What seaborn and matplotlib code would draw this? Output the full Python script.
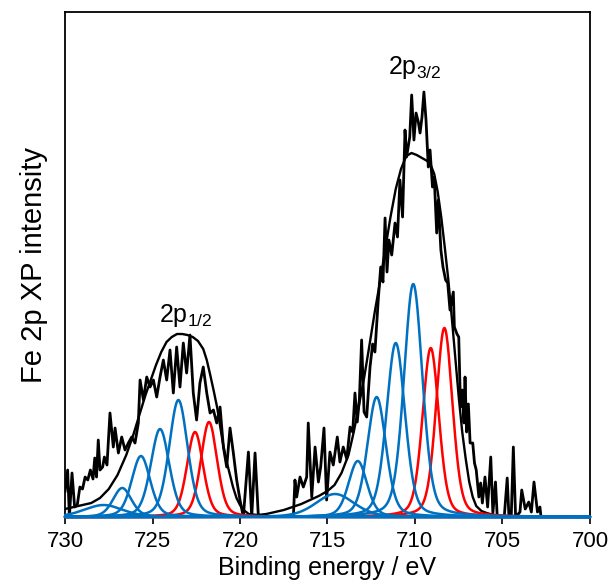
import numpy as np
import pandas as pd
import matplotlib
matplotlib.use("Agg")
import matplotlib.pyplot as plt
import seaborn as sns

# measured spectrum (binding energy in eV, intensity in arb. units)
data_be = [730.0, 729.85, 729.75, 729.6, 729.45, 729.3, 729.15, 729.0, 728.85, 728.7,
           728.55, 728.4, 728.3, 728.2, 728.1, 728.0, 727.85, 727.75, 727.6, 727.43,
           727.24, 727.14, 726.95, 726.76, 726.57, 726.38, 726.19, 726.0, 725.81, 725.71,
           725.52, 725.33, 725.14, 724.95, 724.76, 724.57, 724.38, 724.19, 724.0, 723.81,
           723.62, 723.43, 723.24, 723.05, 722.86, 722.67, 722.48, 722.29, 722.1, 721.9,
           721.71, 721.52, 721.33, 721.14, 720.95, 720.76, 720.57, 720.38, 720.19, 720.0,
           719.81, 719.52, 719.33, 719.14, 718.95, 718.0, 716.95, 716.86, 716.76, 716.57,
           716.38, 716.19, 716.1, 715.9, 715.71, 715.52, 715.39, 715.2, 715.05, 714.86,
           714.67, 714.44, 714.29, 714.1, 713.9, 713.71, 713.56, 713.43, 713.3, 713.18,
           713.05, 712.91, 712.76, 712.57, 712.42, 712.29, 712.1, 711.96, 711.83, 711.71,
           711.6, 711.49, 711.33, 711.14, 711.0, 710.86, 710.71, 710.57, 710.48, 710.3,
           710.19, 710.06, 709.94, 709.81, 709.71, 709.6, 709.49, 709.37, 709.24, 709.14,
           709.0, 708.9, 708.76, 708.67, 708.52, 708.4, 708.25, 708.13, 708.0, 707.81,
           707.75, 707.6, 707.5, 707.4, 707.3, 707.2, 707.14, 707.05, 706.95, 706.85,
           706.7, 706.6, 706.5, 706.35, 706.25, 706.15, 706.0, 705.85, 705.67, 705.55,
           705.4, 705.3, 704.9, 704.73, 704.63, 704.5, 704.38, 704.25, 704.0, 703.9,
           703.7, 703.5, 703.35, 703.2, 703.0, 702.86, 702.8]
data_int = [25, 47, 0, 44, 10, 12, 30, 28, 40, 37,
            47, 38, 59, 40, 77, 47, 50, 60, 52, 104,
            70, 89, 64, 80, 67, 74, 80, 74, 94, 137,
            117, 140, 130, 137, 120, 140, 157, 137, 167, 124,
            170, 130, 174, 144, 182, 124, 97, 134, 150, 124,
            104, 107, 94, 110, 70, 50, 89, 64, 37, 17,
            0, 65, 0, 64, 0, 0, 0, 37, 20, 40,
            30, 40, 94, 20, 70, 35, 50, 89, 17, 65,
            52, 80, 55, 70, 58, 90, 85, 124, 95, 117,
            177, 105, 100, 150, 173, 165, 217, 250, 235, 299,
            245, 277, 262, 294, 280, 337, 300, 387, 360, 380,
            422, 377, 404, 395, 384, 400, 425, 397, 350, 367,
            330, 340, 284, 317, 267, 250, 237, 234, 207, 225,
            190, 183, 180, 110, 127, 94, 140, 85, 113, 74,
            74, 54, 47, 20, 34, 14, 40, 10, 60, 4,
            35, 0, 0, 39, 0, 0, 70, 0, 5, 27,
            8, 15, 5, 35, 5, 10, 0]

# fitted envelope
env_be = [730.0, 729.5, 729.0, 728.5, 728.0, 727.5, 727.0, 726.5, 726.1, 725.7,
          725.4, 725.0, 724.8, 724.5, 724.2, 723.9, 723.6, 723.3, 723.0, 722.7,
          722.4, 722.1, 721.9, 721.7, 721.5, 721.3, 721.0, 720.8, 720.6, 720.4,
          720.2, 720.0, 719.8, 719.5, 719.0, 718.5, 718.0, 717.5, 717.0, 716.5,
          716.0, 715.5, 715.0, 714.6, 714.2, 713.8, 713.5, 713.2, 712.9, 712.6,
          712.3, 712.0, 711.7, 711.4, 711.1, 710.8, 710.5, 710.2, 709.9, 709.6,
          709.3, 709.1, 708.9, 708.7, 708.5, 708.3, 708.1, 707.9, 707.7, 707.5,
          707.3, 707.1, 706.9, 706.7, 706.5, 706.2, 705.9, 705.5, 705.0, 704.5, 703.0]
env_int = [8, 10, 12, 14, 19, 28, 42, 62, 82, 105,
           122, 142, 152, 165, 175, 180, 183, 183, 182, 180,
           176, 168, 157, 142, 126, 109, 76, 58, 44, 30,
           19, 12, 7, 3, 2, 3, 5, 7, 10, 13,
           17, 21, 26, 32, 44, 62, 85, 112, 140, 172,
           205, 235, 268, 300, 328, 348, 361, 364, 362, 359,
           356, 352, 343, 325, 300, 270, 238, 200, 160, 120,
           85, 58, 35, 20, 11, 6, 4, 2, 1, 0.5, 0]

# fitted components (pseudo-Voigt): centre (eV), height, FWHM (eV)
blue_centre = [727.8, 726.73, 725.66, 724.57, 723.52, 714.57, 713.27, 712.19, 711.10, 710.10]
blue_height = [12, 29, 61, 88, 117, 23, 56, 120, 174, 233]
blue_fwhm = [2.6, 1.25, 1.25, 1.25, 1.25, 2.6, 1.25, 1.25, 1.25, 1.25]
red_centre = [722.57, 721.77, 709.10, 708.32]
red_height = [85, 95, 169, 189]
red_fwhm = [1.1, 1.1, 1.1, 1.1]
lor_frac = 0.3


def component(x, c, h, w):
    u = (x - c) / w
    return h * (lor_frac / (1 + 4 * u ** 2) + (1 - lor_frac) * np.exp(-4 * np.log(2) * u ** 2))


sns.set_style("ticks")
plt.rcParams['font.family'] = ['Liberation Sans', 'DejaVu Sans']
plt.rcParams['mathtext.fontset'] = 'custom'
plt.rcParams['mathtext.rm'] = 'Liberation Sans'
plt.rcParams['mathtext.it'] = 'Liberation Sans:italic'
plt.rcParams['text.color'] = 'black'
plt.rcParams['axes.labelcolor'] = 'black'
plt.rcParams['xtick.color'] = 'black'
plt.rcParams['xtick.labelcolor'] = 'black'

fig = plt.figure(figsize=(6.11, 5.84), dpi=100)
ax = fig.add_axes([0.1064, 0.1147, 0.8592, 0.8639])

df = pd.DataFrame({"be": data_be, "intensity": data_int})
sns.lineplot(data=df, x="be", y="intensity", color="black", lw=2.0, ax=ax, sort=False)

env = pd.DataFrame({"be": env_be, "intensity": env_int})
sns.lineplot(data=env, x="be", y="intensity", color="black", lw=1.7, ax=ax, sort=False)

grid = np.linspace(700, 730, 1501)
for c, h, w in zip(red_centre, red_height, red_fwhm):
    ax.plot(grid, component(grid, c, h, w), color="#FF0000", lw=1.8, clip_on=False, zorder=3)
for c, h, w in zip(blue_centre, blue_height, blue_fwhm):
    ax.plot(grid, component(grid, c, h, w), color="#0070C0", lw=1.8, clip_on=False, zorder=3)

ax.set_xlim(730, 700)
ax.set_ylim(0, 504.5)
ax.set_xticks([730, 725, 720, 715, 710, 705, 700])
ax.set_yticks([])
ax.tick_params(axis="x", direction="out", length=5, width=1.2, labelsize=16, pad=5, color="black")
for sp in ax.spines.values():
    sp.set_visible(True)
    sp.set_color("black")
    sp.set_linewidth(1.3)

ax.set_xlabel("Binding energy / eV", fontsize=18, labelpad=3)
ax.set_ylabel("Fe 2p XP intensity", fontsize=21, labelpad=12)

ax.text(710.0, 449, r"2p$_{\mathrm{3/2}}$", fontsize=18, ha="center", va="center")
ax.text(723.1, 202, r"2p$_{\mathrm{1/2}}$", fontsize=18, ha="center", va="center")

fig.savefig("out.png", dpi=100)
